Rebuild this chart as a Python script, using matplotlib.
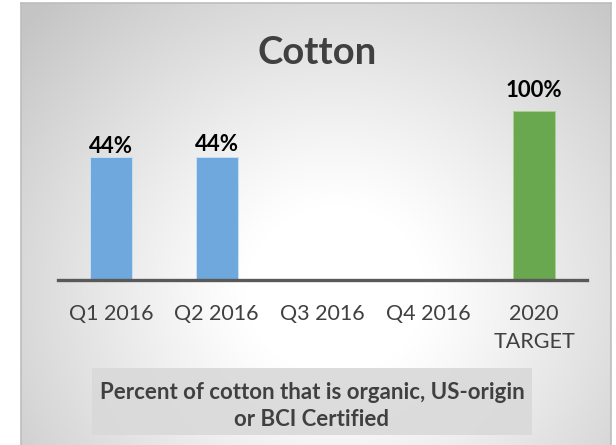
import numpy as np
import matplotlib
matplotlib.use("Agg")
import matplotlib.pyplot as plt
from matplotlib.patches import Rectangle

# ---- data ----
categories = ["Q1 2016", "Q2 2016", "Q3 2016", "Q4 2016", "2020\nTARGET"]
bar_heights = [72.8, 72.8, 0, 0, 100]          # drawn bar heights
value_labels = ["44%", "44%", "", "", "100%"]  # printed labels
bar_colors = ["#6fa8dc", "#6fa8dc", "#6fa8dc", "#6fa8dc", "#6aa84f"]
label_offsets = [4, 6, 0, 0, 14]               # px from bar top to label baseline
title = "Cotton"
note = "Percent of cotton that is organic, US-origin\nor BCI Certified"

W, H = 616, 445
fig = plt.figure(figsize=(W / 100, H / 100), dpi=100)
fig.patch.set_facecolor("white")

def fx(px):
    return px / W

def fy(py):
    return 1 - py / H

# ---- background frame with radial gradient ----
fl, ft, fr, fb = 21, 3, 611, 447
bg = fig.add_axes([fx(fl), fy(fb), fx(fr - fl), (fb - ft) / H])
bg.set_xlim(fl, fr)
bg.set_ylim(fb, ft)
yy, xx = np.mgrid[ft:fb, fl:fr]
cx, cy = 335, 290
d = np.sqrt(((xx - cx) / 1.0) ** 2 + ((yy - cy) / 0.95) ** 2)
v = 1 - 0.23 * np.clip((d - 90) / 330, 0, 1) ** 1.1
img = np.dstack([v, v, v])
bg.imshow(img, extent=[fl, fr, fb, ft], aspect="auto", interpolation="bilinear")
for s in bg.spines.values():
    s.set_color("#bdbdbd")
    s.set_linewidth(1.2)
bg.set_xticks([])
bg.set_yticks([])

# ---- main axes ----
ax_l, ax_r, ax_b, ax_t = 58, 587, 280, 111
ax = fig.add_axes([fx(ax_l), fy(ax_b), fx(ax_r - ax_l), (ax_b - ax_t) / H])
ax.patch.set_alpha(0)
x = np.arange(len(categories))
bars = ax.bar(x, bar_heights, width=0.4, color=bar_colors,
              edgecolor="#cfe2f3", linewidth=0.6, zorder=2)
bars[4].set_edgecolor("#a9d18e")
ax.set_xlim(-0.5, len(categories) - 0.5)
ax.set_ylim(0, 100)
for s in ["left", "right", "top"]:
    ax.spines[s].set_visible(False)
ax.spines["bottom"].set_color("#595959")
ax.spines["bottom"].set_linewidth(2.4)
ax.spines["bottom"].set_zorder(3)
ax.set_yticks([])
ax.set_xticks(x)
ax.set_xticklabels(categories, fontsize=15.5, color="#404040", family="Lato",
                   linespacing=1.55)
ax.tick_params(axis="x", length=0, pad=17)
for xi, h, lab, off in zip(x, bar_heights, value_labels, label_offsets):
    if lab:
        ax.annotate(lab, (xi, h), xytext=(0, off * 0.72),
                    textcoords="offset points", ha="center", va="baseline",
                    fontsize=16, fontweight="bold", color="black", family="Lato")

# ---- title ----
fig.text(fx(317), fy(64), title, ha="center", va="baseline", fontsize=27.5,
         fontweight="bold", color="#404040", family="Lato")

# ---- note box ----
fig.patches.append(Rectangle((fx(92), fy(435)), fx(532 - 92), (435 - 368) / H,
                             transform=fig.transFigure, facecolor="#d9d9d9",
                             edgecolor="none", alpha=0.9, zorder=1))
fig.text(fx(312), fy(406), note, ha="center", va="center", fontsize=16,
         fontweight="bold", color="#404040", family="Lato", linespacing=1.4,
         zorder=2)

fig.savefig("out.png", dpi=100)
